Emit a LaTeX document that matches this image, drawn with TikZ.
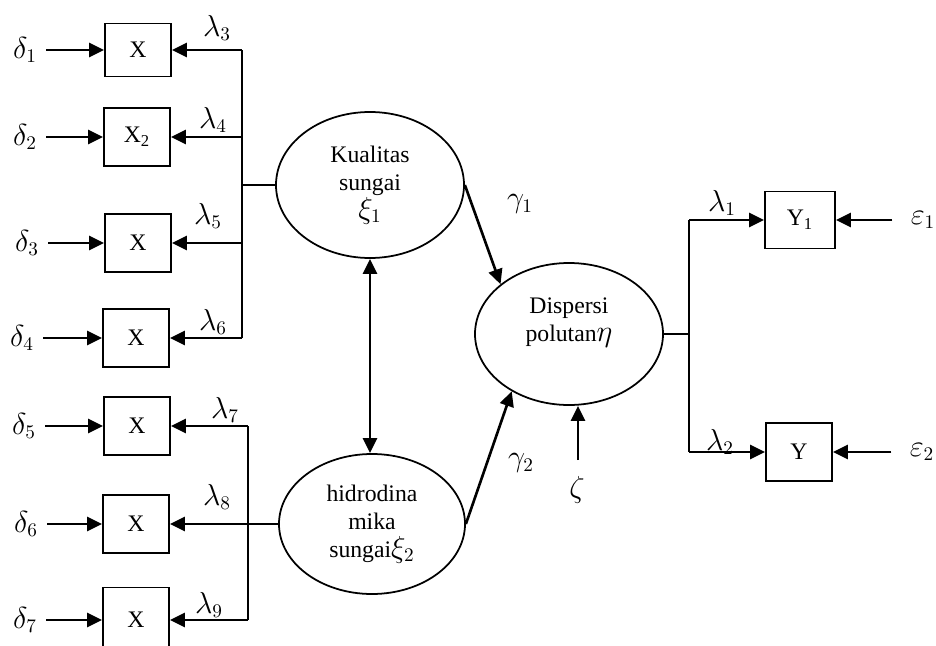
\documentclass[tikz,border=0pt]{standalone}
\usepackage{fontspec}
\setmainfont{Liberation Serif}
\usepackage{tikz}
\usetikzlibrary{shapes.geometric,arrows.meta,positioning}
\newcommand{\bigsym}[1]{{\fontsize{16}{16}\selectfont$#1$}}
\tikzset{
  obsbox/.style={
    rectangle, draw=black, line width=1pt,
    minimum width=1.32cm, minimum height=1.16cm,
    inner sep=0pt, font=\fontsize{13.5}{15}\selectfont
  },
  latent/.style={
    ellipse, draw=black, line width=1pt, inner sep=0pt,
    align=center, font=\fontsize{13.5}{16}\selectfont
  },
  patharrow/.style={-{Triangle[length=3mm,width=2.8mm]}, line width=1.5pt},
  pathboth/.style={{Triangle[length=3mm,width=2.8mm]}-{Triangle[length=3mm,width=2.8mm]}, line width=1.5pt},
  busline/.style={line width=1pt},
  coef/.style={font=\fontsize{16}{18}\selectfont, inner sep=1pt},
  errlbl/.style={font=\fontsize{16}{18}\selectfont, inner ysep=1pt, inner xsep=0.18cm},
}

\begin{document}
\begin{tikzpicture}[x=0.2mm, y=-0.2mm]
  \clip (0,0) rectangle (936,646);
  \node (x1) [obsbox, minimum height=1.06cm] at (138,50) {X};
  \node (x2) [obsbox] at (137,137) {X\textsubscript{2}};
  \node (x3) [obsbox] at (138,243) {X};
  \node (x4) [obsbox] at (136,338) {X};
  \node (x5) [obsbox] at (137,426) {X};
  \node (x6) [obsbox] at (136,524) {X};
  \node (x7) [obsbox, minimum height=1.3cm] at (136,620) {X};
  \node (y1) [obsbox, minimum width=1.4cm, minimum height=1.14cm] at (800,220) {Y\textsubscript{1}};
  \node (y2) [obsbox] at (799,452) {Y};
  \node (kual) [latent, minimum width=3.76cm, minimum height=2.92cm] at (370,185) {Kualitas\\sungai\\\bigsym{\xi_1}};
  \node (hidro) [latent, minimum width=3.72cm, minimum height=2.8cm] at (372,524) {hidrodina\\mika\\sungai\bigsym{\xi_2}};
  \node (disp) [latent, minimum width=3.76cm, minimum height=2.84cm] at (569,334) {Dispersi\\polutan\bigsym{\eta}\\~};
  \node (d1) [errlbl] at (25,50) {$\delta_1$};
  \node (d2) [errlbl] at (25,137) {$\delta_2$};
  \node (d3) [errlbl] at (27,243) {$\delta_3$};
  \node (d4) [errlbl] at (22,338) {$\delta_4$};
  \node (d5) [errlbl] at (24,426) {$\delta_5$};
  \node (d6) [errlbl] at (26,524) {$\delta_6$};
  \node (d7) [errlbl] at (25,620) {$\delta_7$};
  \node (e1) [errlbl, inner xsep=0.36cm] at (923,220) {$\varepsilon_1$};
  \node (e2) [errlbl, inner xsep=0.36cm] at (922,452) {$\varepsilon_2$};
  \node (l3) [coef] at (217,28) {$\lambda_3$};
  \node (l4) [coef] at (213,120) {$\lambda_4$};
  \node (l5) [coef] at (208,216) {$\lambda_5$};
  \node (l6) [coef] at (213,322) {$\lambda_6$};
  \node (l7) [coef] at (225,410) {$\lambda_7$};
  \node (l8) [coef] at (217,497) {$\lambda_8$};
  \node (l9) [coef] at (209,605) {$\lambda_9$};
  \node (l1) [coef] at (722,203) {$\lambda_1$};
  \node (l2) [coef] at (720,442) {$\lambda_2$};
  \node (g1) [coef] at (520,204) {$\gamma_1$};
  \node (g2) [coef] at (521,463) {$\gamma_2$};
  \node (zeta) [coef] at (577,490) {$\zeta$};
  \coordinate (b1) at (242,50);
  \coordinate (b2) at (242,137);
  \coordinate (b3) at (242,243);
  \coordinate (b4) at (242,338);
  \coordinate (bk) at (242,185);
  \coordinate (c1) at (248,426);
  \coordinate (c2) at (248,524);
  \coordinate (c3) at (248,620);
  \coordinate (r0) at (689,334);
  \coordinate (r1) at (689,220);
  \coordinate (r2) at (689,452);
  \coordinate (zs) at (578,460);
  \draw[busline] (b1) -- (b4); \draw[busline] (bk) -- (kual);
  \draw[busline] (c1) -- (c3); \draw[busline] (c2) -- (hidro);
  \draw[busline] (disp) -- (r0); \draw[busline] (r1) -- (r2);
  \draw[patharrow] (b1) -- (x1); \draw[patharrow] (b2) -- (x2);
  \draw[patharrow] (b3) -- (x3); \draw[patharrow] (b4) -- (x4);
  \draw[patharrow] (c1) -- (x5); \draw[patharrow] (c2) -- (x6);
  \draw[patharrow] (c3) -- (x7);
  \draw[patharrow] (d1) -- (x1); \draw[patharrow] (d2) -- (x2);
  \draw[patharrow] (d3) -- (x3); \draw[patharrow] (d4) -- (x4);
  \draw[patharrow] (d5) -- (x5); \draw[patharrow] (d6) -- (x6);
  \draw[patharrow] (d7) -- (x7);
  \draw[pathboth] (kual.south) -- (kual.south |- hidro.north);
  \draw[patharrow] (kual.east) -- (disp.144);
  \draw[patharrow] (hidro.east) -- (disp.225);
  \draw[patharrow] (zs) -- (zs |- disp.south);
  \draw[patharrow] (r1) -- (y1); \draw[patharrow] (r2) -- (y2);
  \draw[patharrow] (e1) -- (y1); \draw[patharrow] (e2) -- (y2);
\end{tikzpicture}
\end{document}
